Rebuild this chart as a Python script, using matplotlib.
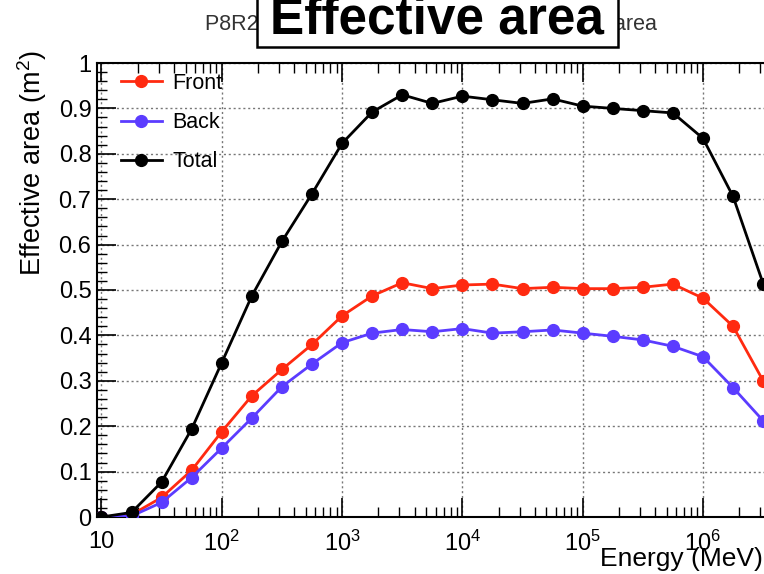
import numpy as np
import matplotlib
matplotlib.use("Agg")
import matplotlib.pyplot as plt
from matplotlib.ticker import FixedLocator, LogLocator, FuncFormatter, MultipleLocator
from matplotlib.patches import Rectangle

plt.rcParams['font.family'] = ['Liberation Sans', 'DejaVu Sans']
plt.rcParams['mathtext.fontset'] = 'custom'
plt.rcParams['mathtext.rm'] = 'Liberation Sans'
plt.rcParams['mathtext.it'] = 'Liberation Sans'

log_energy = [1.0, 1.25, 1.5, 1.75, 2.0, 2.25, 2.5, 2.75, 3.0, 3.25, 3.5, 3.75,
              4.0, 4.25, 4.5, 4.75, 5.0, 5.25, 5.5, 5.75, 6.0, 6.25, 6.5]
front = [0.0, 0.005, 0.043, 0.103, 0.188, 0.267, 0.325, 0.380, 0.443, 0.487, 0.516, 0.503,
         0.511, 0.513, 0.503, 0.506, 0.503, 0.503, 0.506, 0.513, 0.482, 0.420, 0.300]
back = [0.0, 0.002, 0.032, 0.087, 0.152, 0.218, 0.287, 0.337, 0.384, 0.405, 0.413, 0.408,
        0.415, 0.405, 0.408, 0.412, 0.405, 0.398, 0.390, 0.376, 0.353, 0.285, 0.212]
total = [0.0, 0.010, 0.077, 0.194, 0.340, 0.487, 0.607, 0.712, 0.823, 0.892, 0.930, 0.911,
         0.927, 0.919, 0.911, 0.921, 0.905, 0.900, 0.895, 0.890, 0.834, 0.706, 0.514]
series_names = ["Front", "Back", "Total"]
x_tick_exponents = [1, 2, 3, 4, 5, 6]

energy = [10 ** v for v in log_energy]

W, H = 764, 574
fig = plt.figure(figsize=(W / 100, H / 100), dpi=100)
ax = fig.add_axes([97 / W, 57 / H, 726.3 / W, 454 / H])

colors = ['#ff2a10', '#5b3cff', '#000000']
for name, vals, c in zip(series_names, [front, back, total], colors):
    ax.plot(energy, vals, '-o', color=c, lw=2.0, ms=8.5, label=name, zorder=3)

ax.set_xscale('log')
ax.set_xlim(10 ** 0.963, 1e7)
ax.set_ylim(0, 1)

ax.xaxis.set_major_locator(FixedLocator([10 ** e for e in x_tick_exponents]))
ax.xaxis.set_minor_locator(LogLocator(base=10, subs=np.arange(2, 10)))
def xfmt(v, pos):
    e = int(round(np.log10(v)))
    return '10' if e == 1 else r'$10^{%d}$' % e
ax.xaxis.set_major_formatter(FuncFormatter(xfmt))
ax.yaxis.set_major_locator(MultipleLocator(0.1))
ax.yaxis.set_minor_locator(MultipleLocator(0.02))
def yfmt(v, pos):
    if abs(v) < 1e-9:
        return '0'
    if abs(v - 1) < 1e-9:
        return '1'
    return '%.1f' % v
ax.yaxis.set_major_formatter(FuncFormatter(yfmt))

ax.tick_params(which='both', direction='in', top=True, right=False, labelsize=17)
ax.tick_params(which='major', length=14, width=1.2)
ax.tick_params(which='minor', length=7, width=1.0)
ax.tick_params(axis='x', which='major', pad=10)
ax.tick_params(axis='y', which='major', pad=4)

ax.grid(True, which='major', linestyle=(0, (1.5, 2)), color='#777777', lw=1.0)
for s in ax.spines.values():
    s.set_linewidth(1.5)

fig.text(32 / W, 1 - 50 / H, 'Effective area (m$^{2}$)', fontsize=19.5, rotation=90,
         ha='center', va='top')
fig.text(763 / W, 1 - 559 / H, 'Energy (MeV)', fontsize=19, ha='right', va='center')

leg = ax.legend(loc='upper left', bbox_to_anchor=(121 / W, 1 - 73 / H),
                bbox_transform=fig.transFigure, frameon=False, fontsize=15.5,
                handlelength=1.9, handletextpad=0.47, labelspacing=0.84,
                borderaxespad=0.0, borderpad=0.0)

# background title and overlaid box
fig.text(205 / W, 1 - 24 / H, 'P8R2_SOURCE_V6 on-axis total effective area', fontsize=15.5,
         color='#333333', ha='left', va='center')
fig.patches.append(Rectangle((257 / W, 1 - 47 / H), (618 - 257) / W, 60 / H,
                             transform=fig.transFigure, facecolor='white', edgecolor='black',
                             lw=1.8, zorder=5))
fig.text(437 / W, 1 - 34 / H, 'Effective area', fontsize=37, fontweight='bold',
         ha='center', va='baseline', zorder=6)

fig.savefig('out.png', dpi=100)
